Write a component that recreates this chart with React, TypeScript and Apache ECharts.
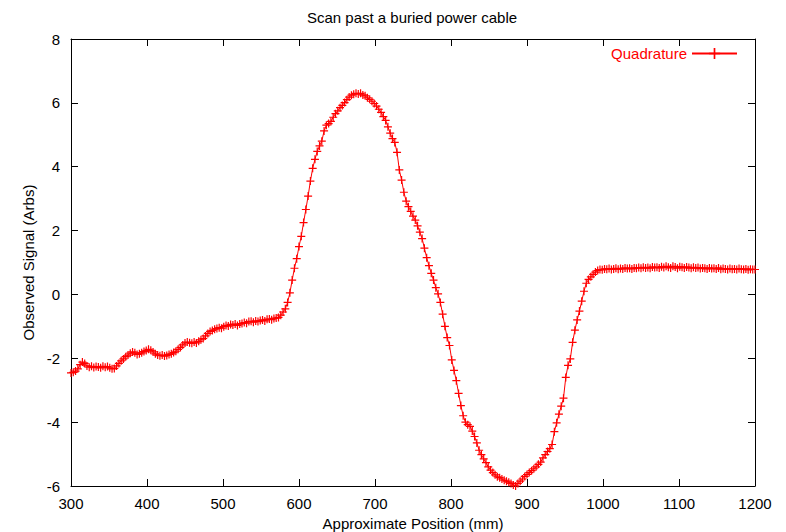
import React, { useEffect, useRef } from "react";
import * as echarts from "echarts";

const chartTitle = "Scan past a buried power cable";
const xAxisName = "Approximate Position (mm)";
const yAxisName = "Observed Signal (Arbs)";
const seriesName = "Quadrature";

const positions = [
  300, 303, 306, 309, 312, 315, 318, 321, 324, 327,
  330, 333, 336, 339, 342, 345, 348, 351, 354, 357,
  360, 363, 366, 369, 372, 375, 378, 381, 384, 387,
  390, 393, 396, 399, 402, 405, 408, 411, 414, 417,
  420, 423, 426, 429, 432, 435, 438, 441, 444, 447,
  450, 453, 456, 459, 462, 465, 468, 471, 474, 477,
  480, 483, 486, 489, 492, 495, 498, 501, 504, 507,
  510, 513, 516, 519, 522, 525, 528, 531, 534, 537,
  540, 543, 546, 549, 552, 555, 558, 561, 564, 567,
  570, 573, 576, 579, 582, 585, 588, 591, 594, 597,
  600, 603, 606, 609, 612, 615, 618, 621, 624, 627,
  630, 633, 636, 639, 642, 645, 648, 651, 654, 657,
  660, 663, 666, 669, 672, 675, 678, 681, 684, 687,
  690, 693, 696, 699, 702, 705, 708, 711, 714, 717,
  720, 723, 726, 729, 732, 735, 738, 741, 744, 747,
  750, 753, 756, 759, 762, 765, 768, 771, 774, 777,
  780, 783, 786, 789, 792, 795, 798, 801, 804, 807,
  810, 813, 816, 819, 822, 825, 828, 831, 834, 837,
  840, 843, 846, 849, 852, 855, 858, 861, 864, 867,
  870, 873, 876, 879, 882, 885, 888, 891, 894, 897,
  900, 903, 906, 909, 912, 915, 918, 921, 924, 927,
  930, 933, 936, 939, 942, 945, 948, 951, 954, 957,
  960, 963, 966, 969, 972, 975, 978, 981, 984, 987,
  990, 993, 996, 999, 1002, 1005, 1008, 1011, 1014, 1017,
  1020, 1023, 1026, 1029, 1032, 1035, 1038, 1041, 1044, 1047,
  1050, 1053, 1056, 1059, 1062, 1065, 1068, 1071, 1074, 1077,
  1080, 1083, 1086, 1089, 1092, 1095, 1098, 1101, 1104, 1107,
  1110, 1113, 1116, 1119, 1122, 1125, 1128, 1131, 1134, 1137,
  1140, 1143, 1146, 1149, 1152, 1155, 1158, 1161, 1164, 1167,
  1170, 1173, 1176, 1179, 1182, 1185, 1188, 1191, 1194, 1197,
  1200,
];

const quadrature = [
  -2.46, -2.44, -2.40, -2.33, -2.20, -2.12, -2.16, -2.24, -2.28, -2.25,
  -2.29, -2.26, -2.27, -2.30, -2.25, -2.28, -2.26, -2.30, -2.33, -2.32,
  -2.24, -2.16, -2.08, -2.02, -1.95, -1.90, -1.84, -1.80, -1.83, -1.88,
  -1.86, -1.83, -1.79, -1.76, -1.72, -1.75, -1.80, -1.86, -1.90, -1.92,
  -1.90, -1.93, -1.91, -1.88, -1.86, -1.82, -1.78, -1.72, -1.66, -1.58,
  -1.52, -1.49, -1.51, -1.53, -1.49, -1.52, -1.47, -1.42, -1.38, -1.30,
  -1.22, -1.16, -1.13, -1.09, -1.07, -1.04, -1.06, -1.01, -0.97, -0.99,
  -0.94, -0.96, -0.93, -0.97, -0.93, -0.91, -0.88, -0.90, -0.85, -0.84,
  -0.87, -0.83, -0.85, -0.82, -0.80, -0.83, -0.78, -0.77, -0.79, -0.75,
  -0.74, -0.72, -0.65, -0.55, -0.45, -0.25, 0.05, 0.45, 0.82, 1.12,
  1.50, 1.82, 2.25, 2.66, 3.08, 3.55, 3.95, 4.23, 4.48, 4.65,
  4.80, 5.12, 5.30, 5.35, 5.42, 5.55, 5.66, 5.75, 5.85, 5.92,
  6.01, 6.10, 6.18, 6.24, 6.27, 6.30, 6.28, 6.30, 6.25, 6.22,
  6.16, 6.11, 6.05, 5.98, 5.90, 5.80, 5.70, 5.57, 5.45, 5.25,
  5.05, 4.88, 4.76, 4.45, 3.90, 3.58, 3.20, 2.92, 2.75, 2.60,
  2.45, 2.33, 2.15, 1.95, 1.75, 1.45, 1.15, 0.90, 0.66, 0.45,
  0.21, 0.02, -0.25, -0.62, -1.00, -1.35, -1.60, -2.05, -2.38, -2.70,
  -3.10, -3.48, -3.80, -4.00, -4.08, -4.13, -4.28, -4.45, -4.65, -4.88,
  -5.02, -5.15, -5.27, -5.40, -5.50, -5.58, -5.65, -5.71, -5.74, -5.78,
  -5.82, -5.85, -5.88, -5.92, -5.97, -6.00, -5.92, -5.85, -5.78, -5.70,
  -5.64, -5.58, -5.52, -5.46, -5.40, -5.32, -5.25, -5.12, -5.02, -4.92,
  -4.83, -4.70, -4.30, -4.02, -3.75, -3.50, -3.25, -2.60, -2.22, -2.02,
  -1.50, -1.12, -0.80, -0.52, -0.21, 0.10, 0.35, 0.47, 0.55, 0.63,
  0.70, 0.75, 0.78, 0.77, 0.80, 0.79, 0.81, 0.78, 0.80, 0.82,
  0.79, 0.81, 0.80, 0.83, 0.81, 0.82, 0.80, 0.83, 0.82, 0.84,
  0.82, 0.85, 0.83, 0.84, 0.82, 0.86, 0.84, 0.85, 0.83, 0.87,
  0.84, 0.88, 0.85, 0.83, 0.88, 0.86, 0.82, 0.87, 0.85, 0.83,
  0.86, 0.84, 0.82, 0.85, 0.83, 0.84, 0.81, 0.83, 0.82, 0.80,
  0.83, 0.81, 0.82, 0.80, 0.83, 0.79, 0.81, 0.80, 0.78, 0.81,
  0.79, 0.80, 0.78, 0.81, 0.79, 0.78, 0.80, 0.77, 0.79, 0.78,
  0.78,
];

const X_MIN = 300;
const X_MAX = 1200;
const X_STEP = 100;
const Y_MIN = -6;
const Y_MAX = 8;
const Y_STEP = 2;

const FONT = "'Liberation Sans', Arial, Helvetica, sans-serif";
const RED = "#ff0000";
const PLUS =
  "path://M3.4,0 H4.6 V3.4 H8 V4.6 H4.6 V8 H3.4 V4.6 H0 V3.4 H3.4 Z";

export default function App() {
  const ref = useRef<HTMLDivElement>(null);

  useEffect(() => {
    if (!ref.current) return;
    const chart = echarts.init(ref.current, null, { renderer: "svg" });

    const axisLine = {
      show: true,
      onZero: false,
      lineStyle: { color: "#000", width: 1 },
    };
    const axisTick = {
      show: true,
      inside: true,
      length: 7,
      lineStyle: { color: "#000", width: 1 },
    };
    const labelStyle = { color: "#000", fontSize: 15, fontFamily: FONT };
    const plain = (v: number) => String(v);

    chart.setOption({
      animation: false,
      backgroundColor: "#ffffff",
      textStyle: { fontFamily: FONT },
      grid: {
        left: 71,
        right: 31,
        top: 39,
        bottom: 46,
        containLabel: false,
        outerBoundsMode: "none",
      },
      graphic: [
        {
          type: "text",
          x: 412,
          y: 17,
          style: {
            text: chartTitle,
            align: "center",
            verticalAlign: "middle",
            fontSize: 15,
            fontFamily: FONT,
            fill: "#000",
          },
        },
      ],
      legend: {
        data: [seriesName],
        right: 48,
        top: 46,
        padding: 0,
        align: "right",
        itemWidth: 45,
        itemHeight: 14,
        textStyle: { color: RED, fontSize: 15, fontFamily: FONT },
      },
      xAxis: [
        {
          type: "value",
          position: "bottom",
          min: X_MIN,
          max: X_MAX,
          interval: X_STEP,
          axisLine,
          axisTick,
          axisLabel: { ...labelStyle, margin: 10, formatter: plain },
          splitLine: { show: false },
          name: xAxisName,
          nameLocation: "middle",
          nameGap: 30,
          nameTextStyle: labelStyle,
        },
        {
          type: "value",
          position: "top",
          min: X_MIN,
          max: X_MAX,
          interval: X_STEP,
          axisLine,
          axisTick,
          axisLabel: { show: false },
          splitLine: { show: false },
        },
      ],
      yAxis: [
        {
          type: "value",
          position: "left",
          min: Y_MIN,
          max: Y_MAX,
          interval: Y_STEP,
          axisLine,
          axisTick,
          axisLabel: { ...labelStyle, margin: 11, formatter: plain },
          splitLine: { show: false },
          name: yAxisName,
          nameLocation: "middle",
          nameGap: 29,
          nameTextStyle: labelStyle,
        },
        {
          type: "value",
          position: "right",
          min: Y_MIN,
          max: Y_MAX,
          interval: Y_STEP,
          axisLine,
          axisTick,
          axisLabel: { show: false },
          splitLine: { show: false },
        },
      ],
      series: [
        {
          type: "line",
          name: seriesName,
          xAxisIndex: 0,
          yAxisIndex: 0,
          data: positions.map((x, i) => [x, quadrature[i]]),
          symbol: PLUS,
          symbolSize: 8,
          showSymbol: true,
          lineStyle: { color: RED, width: 1 },
          itemStyle: { color: RED },
          clip: false,
        },
      ],
    });

    return () => chart.dispose();
  }, []);

  return (
    <div
      ref={ref}
      style={{ position: "absolute", left: 0, top: 0, width: 786, height: 532 }}
    />
  );
}
